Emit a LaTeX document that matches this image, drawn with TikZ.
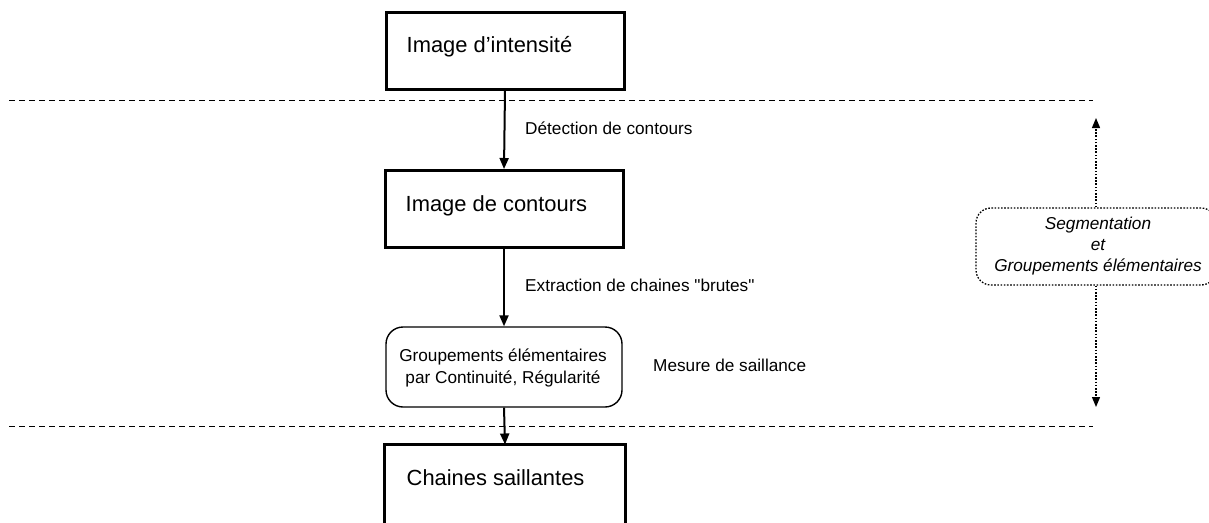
\documentclass[tikz,border=0pt]{standalone}
\usepackage{fontspec}
\setmainfont{Liberation Sans}
\usetikzlibrary{arrows.meta,calc}
\begin{document}
\begin{tikzpicture}[x=1pt,y=-1pt,
  bigfont/.style={font=\fontsize{21.9}{26}\selectfont},
  smallfont/.style={font=\fontsize{17.2}{22.5}\selectfont},
  stagebox/.style={draw,line width=3pt,minimum width=238pt,minimum height=77pt,inner sep=0pt},
  groupbox/.style={draw,line width=1.4pt,rounded corners=17pt,minimum width=236pt,minimum height=80pt,inner sep=0pt},
  zoneline/.style={line width=1pt,dash pattern=on 6pt off 4pt},
  flow/.style={line width=2pt,-{Triangle[length=11pt,width=9pt]}},
  dotline/.style={line width=1.3pt,dash pattern=on 1.6pt off 1.6pt},
  dotarrow/.style={dotline,-{Triangle[length=10pt,width=8pt]}},
  stagetext/.style={bigfont,anchor=base west,inner sep=0pt},
  note/.style={smallfont,anchor=base west,inner sep=0pt}]
\clip (0,0) rectangle (1209,522);
\fill[white] (0,0) rectangle (1209,522);

% main stages
\node[stagebox] (b1) at (505,50.5) {};
\node[stagebox] (b2) at (504,209) {};
\node[groupbox] (g) at (504,367) {};
% last stage runs past the bottom edge
\node[stagebox,draw=none] (b4) at (505,484.5) {};
\path (b4.north) ++(0,90) coordinate (b4s);
\draw[line width=3pt] (b4.north west) rectangle (b4s -| b4.east);

\node[stagetext] (t1) at ($(b1.north west)+(22,42)$) {Image d’intensité};
\node[stagetext] (t2) at ($(b2.north west)+(22,42)$) {Image de contours};
\node[stagetext] (t4) at ($(b4.north west)+(22,41)$) {Chaines saillantes};
\node[smallfont,align=center,inner sep=0pt] (gt) at (503,368) {Groupements élémentaires\\par Continuité, Régularité};

% separators
\coordinate (d1w) at (9,100);
\coordinate (d1e) at (1093,100);
\coordinate (d2w) at (9,426);
\coordinate (d2e) at (1093,426);
\draw[zoneline] (d1w) -- (d1e);
\draw[zoneline] (d2w) -- (d2e);

% processing steps
\draw[flow] (b1.south) -- (b2.north);
\draw[flow] (b2.south) -- (g.north);
\draw[flow] (g.south) -- (b4.north);
\node[note] (n1) at (525,134) {Détection de contours};
\node[note] (n2) at (525,291) {Extraction de chaines \textquotedbl brutes\textquotedbl};
\node[note] (n3) at (653,371) {Mesure de saillance};

% scope of the stage
\node[draw,dotline,rounded corners=15pt,minimum width=240pt,minimum height=77pt,inner sep=0pt] (seg) at (1096,246.5) {};
\node[font=\fontsize{17.2}{21}\selectfont\itshape,align=center,inner sep=0pt] (segt) at (1098,246) {Segmentation\\et\\Groupements élémentaires};
\coordinate (segtop) at (1096,118);
\coordinate (segbot) at (1096,407);
\draw[dotarrow] (seg.north) -- (segtop);
\draw[dotarrow] (seg.south) -- (segbot);
\end{tikzpicture}
\end{document}
